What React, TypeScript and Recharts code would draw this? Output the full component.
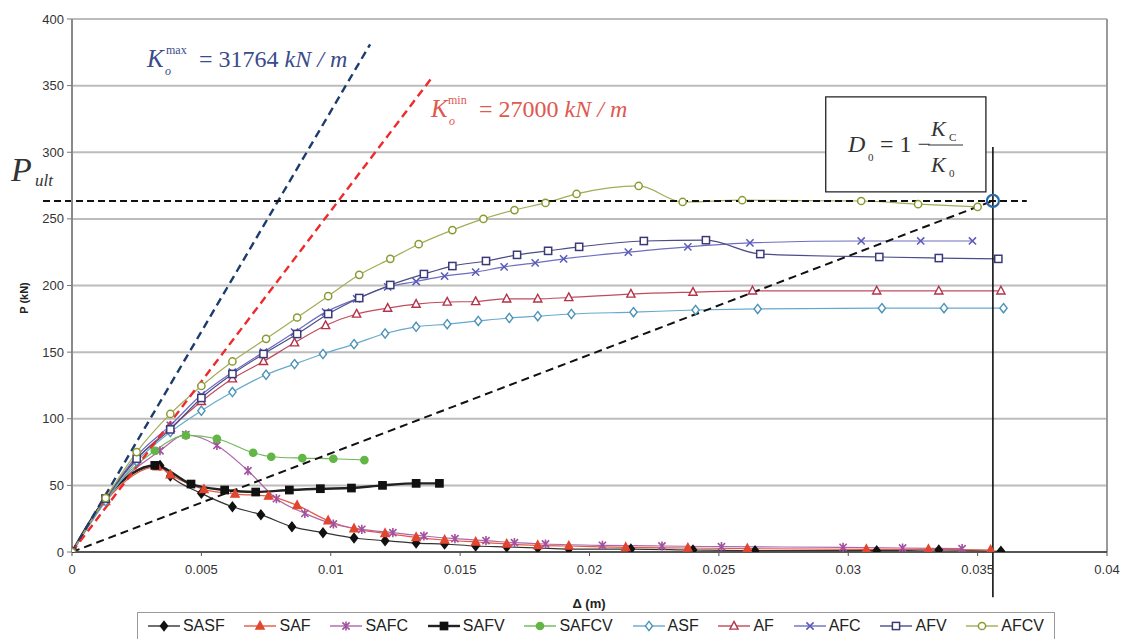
import React from "react";
import {
  ComposedChart,
  Line,
  XAxis,
  YAxis,
  CartesianGrid,
  ReferenceLine,
  ReferenceDot,
  ReferenceArea
} from "recharts";

type Pt = { x: number; y: number };
const pts = (rows: number[][]): Pt[] => rows.map(([x, y]) => ({ x, y }));

const xTicks = [0, 0.005, 0.01, 0.015, 0.02, 0.025, 0.03, 0.035, 0.04];
const yTicks = [0, 50, 100, 150, 200, 250, 300, 350, 400];

// load - displacement curves, Δ (m) vs P (kN)
const sasf = pts([
  [0, 0], [0.0013, 40], [0.0034, 65], [0.0038, 57], [0.005, 44], [0.0062, 34], [0.0073, 28],
  [0.0085, 19], [0.0097, 14.5], [0.0109, 10.5], [0.0121, 8.5], [0.0133, 6.7], [0.0144, 6],
  [0.0156, 4.5], [0.0168, 3.8], [0.018, 3], [0.0192, 2.2], [0.0216, 2.2], [0.024, 1.5],
  [0.0264, 1], [0.0311, 1], [0.0335, 1.5], [0.0359, 0.5]
]);
const saf = pts([
  [0, 0], [0.0013, 38], [0.0033, 64], [0.0038, 58], [0.0051, 47], [0.0063, 43.5], [0.0076, 42],
  [0.0087, 35], [0.0099, 23.5], [0.0109, 17.5], [0.0121, 14], [0.0133, 11], [0.0144, 9],
  [0.0156, 7.5], [0.0168, 6], [0.018, 5], [0.0192, 4.5], [0.0214, 3.5], [0.0238, 3],
  [0.0261, 2.5], [0.0307, 2], [0.0331, 2], [0.0355, 1.5]
]);
const safc = pts([
  [0, 0], [0.0013, 40], [0.0034, 76], [0.0044, 88], [0.0056, 80], [0.0068, 61], [0.0079, 40],
  [0.009, 29], [0.0101, 21], [0.0112, 17], [0.0124, 14.5], [0.0136, 12], [0.0148, 10],
  [0.016, 8.5], [0.0171, 7], [0.0183, 6], [0.0205, 5], [0.0228, 4.5], [0.0251, 4],
  [0.0298, 3.5], [0.0321, 3], [0.0344, 2.5]
]);
const safv = pts([
  [0, 0], [0.0013, 40], [0.0032, 65], [0.0046, 51], [0.0059, 46.5], [0.0071, 45],
  [0.0084, 46.5], [0.0096, 47.5], [0.0108, 48], [0.012, 50], [0.0133, 51.5], [0.0142, 51.5]
]);
const safcv = pts([
  [0, 0], [0.0013, 40], [0.0032, 76], [0.0044, 87.5], [0.0056, 85], [0.007, 74.5],
  [0.0077, 71.5], [0.0089, 70.5], [0.0101, 70], [0.0113, 69]
]);
const asf = pts([
  [0, 0], [0.0013, 38], [0.0025, 68], [0.0038, 90], [0.005, 106], [0.0062, 120], [0.0075, 133],
  [0.0086, 141], [0.0097, 148.6], [0.0109, 156], [0.0121, 164], [0.0133, 169], [0.0145, 171],
  [0.0157, 173.4], [0.0169, 175.6], [0.018, 177], [0.0193, 178.6], [0.0217, 180],
  [0.0241, 181.6], [0.0265, 182.4], [0.0313, 183], [0.0337, 183], [0.036, 183]
]);
const af = pts([
  [0, 0], [0.0013, 40], [0.0025, 70], [0.0038, 93], [0.005, 113], [0.0062, 130], [0.0074, 143],
  [0.0086, 157], [0.0098, 170], [0.011, 178.6], [0.0122, 183], [0.0133, 186], [0.0145, 187.6],
  [0.0156, 188], [0.0168, 190], [0.018, 190], [0.0192, 191], [0.0216, 193.6], [0.024, 195],
  [0.0263, 196], [0.0311, 196], [0.0335, 196], [0.0359, 196]
]);
const afc = pts([
  [0, 0], [0.0013, 40], [0.0025, 72], [0.0038, 95], [0.005, 118], [0.0062, 135], [0.0074, 150],
  [0.0086, 165], [0.0098, 180], [0.011, 190], [0.0122, 199], [0.0133, 203], [0.0144, 207],
  [0.0156, 210], [0.0167, 214], [0.0179, 217], [0.019, 220], [0.0215, 225], [0.0238, 229],
  [0.0262, 232], [0.0305, 233.4], [0.0328, 233.4], [0.0348, 233.4]
]);
const afv = pts([
  [0, 0], [0.0013, 40], [0.0025, 70], [0.0038, 92], [0.005, 115.6], [0.0062, 133.6],
  [0.0074, 148.6], [0.0087, 163.6], [0.0099, 178.6], [0.0111, 190.6], [0.0123, 200.4],
  [0.0136, 208.6], [0.0147, 214.6], [0.016, 218.4], [0.0172, 223], [0.0184, 226],
  [0.0196, 229], [0.0221, 233.4], [0.0245, 234], [0.0266, 223.6], [0.0312, 221.4],
  [0.0335, 220.6], [0.0358, 220]
]);
const afcv = pts([
  [0, 0], [0.0013, 40.5], [0.0025, 75], [0.0038, 103.6], [0.005, 124.6], [0.0062, 143],
  [0.0075, 160], [0.0087, 176], [0.0099, 192], [0.0111, 208], [0.0123, 220], [0.0134, 231],
  [0.0147, 241.6], [0.0159, 250], [0.0171, 256.6], [0.0183, 262], [0.0195, 268.7],
  [0.0219, 274.7], [0.0236, 262.7], [0.0259, 264], [0.0305, 263.4], [0.0327, 261],
  [0.035, 259]
]);

// construction lines
const kMaxLine = [{ x: 0, y: 0 }, { x: 0.01152, y: 381 }];
const kMinLine = [{ x: 0, y: 0 }, { x: 0.01391, y: 356 }];
const pUlt = 263.5;
const dUlt = 0.03559;

type Shape = "diamond" | "triangle" | "star" | "square" | "circle" | "x";

const series: {
  name: string;
  data: Pt[];
  color: string;
  line: string;
  shape: Shape;
  filled: boolean;
  width: number;
}[] = [
  { name: "SASF", data: sasf, color: "#111", line: "#333", shape: "diamond", filled: true, width: 1.2 },
  { name: "SAF", data: saf, color: "#e2462e", line: "#e35a44", shape: "triangle", filled: true, width: 1.2 },
  { name: "SAFC", data: safc, color: "#a3519d", line: "#ad66a8", shape: "star", filled: false, width: 1.2 },
  { name: "SAFV", data: safv, color: "#111", line: "#222", shape: "square", filled: true, width: 2.4 },
  { name: "SAFCV", data: safcv, color: "#62b645", line: "#70b858", shape: "circle", filled: true, width: 1.2 },
  { name: "ASF", data: asf, color: "#4d93b8", line: "#67a9cc", shape: "diamond", filled: false, width: 1.2 },
  { name: "AF", data: af, color: "#b3334a", line: "#c14a5c", shape: "triangle", filled: false, width: 1.2 },
  { name: "AFC", data: afc, color: "#5a5ab8", line: "#6d6dc2", shape: "x", filled: false, width: 1.2 },
  { name: "AFV", data: afv, color: "#3a3a7a", line: "#4c4c88", shape: "square", filled: false, width: 1.2 },
  { name: "AFCV", data: afcv, color: "#8b9a32", line: "#a4ac55", shape: "circle", filled: false, width: 1.2 }
];

function Marker({ shape, cx, cy, color, filled }: { shape: Shape; cx: number; cy: number; color: string; filled: boolean }) {
  const s = 3.6;
  const fill = filled ? color : "#fff";
  switch (shape) {
    case "diamond":
      return <polygon points={`${cx},${cy - s - 1} ${cx + s},${cy} ${cx},${cy + s + 1} ${cx - s},${cy}`} fill={fill} stroke={color} strokeWidth={1.4} />;
    case "triangle":
      return <polygon points={`${cx},${cy - s - 1} ${cx + s + 0.5},${cy + s - 0.5} ${cx - s - 0.5},${cy + s - 0.5}`} fill={fill} stroke={color} strokeWidth={1.4} />;
    case "square":
      return <rect x={cx - s} y={cy - s} width={2 * s} height={2 * s} fill={fill} stroke={color} strokeWidth={1.5} />;
    case "circle":
      return <circle cx={cx} cy={cy} r={s} fill={fill} stroke={color} strokeWidth={1.5} />;
    case "x":
      return <path d={`M${cx - s},${cy - s}L${cx + s},${cy + s}M${cx - s},${cy + s}L${cx + s},${cy - s}`} stroke={color} strokeWidth={1.5} fill="none" />;
    case "star":
      return <path d={`M${cx - s},${cy - s}L${cx + s},${cy + s}M${cx - s},${cy + s}L${cx + s},${cy - s}M${cx},${cy - s - 1}L${cx},${cy + s + 1}`} stroke={color} strokeWidth={1.6} fill="none" />;
  }
  return null;
}

const serif = "'Liberation Serif', 'Times New Roman', serif";
const sans = "'Liberation Sans', Arial, sans-serif";

export default function App() {
  return (
    <div style={{ position: "absolute", left: 0, top: 0, width: 1123, height: 639, background: "#fff", overflow: "hidden" }}>
      <ComposedChart width={1123} height={639} margin={{ top: 19, right: 16, left: 0, bottom: 0 }}>
        <CartesianGrid vertical={false} stroke="#bcbcbc" strokeWidth={2} />
        <XAxis
          type="number"
          dataKey="x"
          domain={[0, 0.04]}
          ticks={xTicks}
          height={87}
          allowDataOverflow
          tick={{ fontSize: 13, fill: "#333", fontFamily: sans }}
          tickSize={4}
          tickMargin={9}
          axisLine={{ stroke: "#333", strokeWidth: 1.6 }}
          tickLine={{ stroke: "#555" }}
        />
        <YAxis
          type="number"
          domain={[0, 400]}
          ticks={yTicks}
          width={72}
          allowDataOverflow
          tick={{ fontSize: 13, fill: "#333", fontFamily: sans }}
          tickSize={5}
          tickMargin={3}
          axisLine={{ stroke: "#8a8a8a", strokeWidth: 2 }}
          tickLine={{ stroke: "#777" }}
        />
        <ReferenceLine x={0.04} stroke="#9a9a9a" strokeWidth={2} />
        {series.map((s) => (
          <Line
            key={s.name}
            data={s.data}
            dataKey="y"
            name={s.name}
            type="monotone"
            stroke={s.line}
            strokeWidth={s.width}
            isAnimationActive={false}
            dot={(p: any) =>
              p.cx == null ? <g key={`${s.name}-${p.index}`} /> : (
                <g key={`${s.name}-${p.index}`}>
                  <Marker shape={s.shape} cx={p.cx} cy={p.cy} color={s.color} filled={s.filled} />
                </g>
              )
            }
            activeDot={false}
          />
        ))}
        <ReferenceLine segment={kMaxLine} stroke="#1d3b6b" strokeWidth={2.4} strokeDasharray="8 5" ifOverflow="visible" />
        <ReferenceLine segment={kMinLine} stroke="#ee2a2a" strokeWidth={2.4} strokeDasharray="8 5" ifOverflow="visible" />
        <ReferenceLine segment={[{ x: -0.00112, y: pUlt }, { x: 0.0369, y: pUlt }]} stroke="#111" strokeWidth={2} strokeDasharray="7 4" ifOverflow="visible" />
        <ReferenceLine segment={[{ x: 0, y: 0 }, { x: dUlt, y: pUlt }]} stroke="#111" strokeWidth={2} strokeDasharray="8 5" ifOverflow="visible" />
        <ReferenceLine segment={[{ x: dUlt, y: 304 }, { x: dUlt, y: -34 }]} stroke="#111" strokeWidth={1.6} ifOverflow="visible" />
        <ReferenceDot x={dUlt} y={pUlt} r={6} fill="#fff" fillOpacity={0} stroke="#2a68a6" strokeWidth={2.2} ifOverflow="visible" />
        <ReferenceArea x1={0.02913} x2={0.03532} y1={270.2} y2={341.6} fill="#fff" fillOpacity={1} stroke="#222" strokeWidth={1.3} ifOverflow="visible" />
      </ComposedChart>

      <svg width={1123} height={639} style={{ position: "absolute", left: 0, top: 0, pointerEvents: "none" }}>
        <text x={24} y={298} transform="rotate(-90 24 298)" textAnchor="middle" dominantBaseline="central" fontFamily={sans} fontSize={11} fontWeight="bold" fill="#222">P (kN)</text>
        <text x={589} y={603} textAnchor="middle" dominantBaseline="central" fontFamily={sans} fontSize={13} fontWeight="bold" fill="#222">Δ (m)</text>

        <g fontFamily={serif} fill="#3a4b8a">
          <text x={147} y={67} fontSize={25} fontStyle="italic">K</text>
          <text x={166} y={54} fontSize={12}>max</text>
          <text x={165} y={75} fontSize={12} fontStyle="italic">o</text>
          <text x={199} y={67} fontSize={24}>= 31764 <tspan fontStyle="italic">kN / m</tspan></text>
        </g>
        <g fontFamily={serif} fill="#e0584e">
          <text x={431} y={117} fontSize={25} fontStyle="italic">K</text>
          <text x={448} y={104} fontSize={12}>min</text>
          <text x={449} y={125} fontSize={12} fontStyle="italic">o</text>
          <text x={479} y={117} fontSize={24}>= 27000 <tspan fontStyle="italic">kN / m</tspan></text>
        </g>
        <g fontFamily={serif} fill="#333" fontStyle="italic">
          <text x={11} y={181} fontSize={34}>P</text>
          <text x={35} y={186} fontSize={17}>ult</text>
        </g>
        <g fontFamily={serif} fill="#333">
          <text x={848} y={152} fontSize={24} fontStyle="italic">D</text>
          <text x={868} y={161} fontSize={11}>0</text>
          <text x={880} y={152} fontSize={24}>= 1 −</text>
          <line x1={928} x2={963} y1={145} y2={145} stroke="#333" strokeWidth={1.2} />
          <text x={931} y={136} fontSize={22} fontStyle="italic">K</text>
          <text x={949} y={141} fontSize={11}>C</text>
          <text x={931} y={172} fontSize={22} fontStyle="italic">K</text>
          <text x={949} y={177} fontSize={11}>0</text>
        </g>
      </svg>

      <div
        style={{
          position: "absolute",
          left: 137,
          top: 612,
          width: 918,
          height: 40,
          border: "1.5px solid #9a9a9a",
          boxSizing: "border-box",
          display: "flex",
          justifyContent: "space-around",
          alignItems: "flex-start",
          paddingTop: 4,
          fontFamily: sans,
          fontSize: 16,
          color: "#222"
        }}
      >
        {series.map((s) => (
          <div key={s.name} style={{ display: "flex", alignItems: "center", lineHeight: "18px" }}>
            <svg width={32} height={16} style={{ marginRight: 3 }}>
              <line x1={0} x2={32} y1={8} y2={8} stroke={s.line} strokeWidth={s.width > 2 ? 2.4 : 1.4} />
              <Marker shape={s.shape} cx={16} cy={8} color={s.color} filled={s.filled} />
            </svg>
            <span>{s.name}</span>
          </div>
        ))}
      </div>
    </div>
  );
}
